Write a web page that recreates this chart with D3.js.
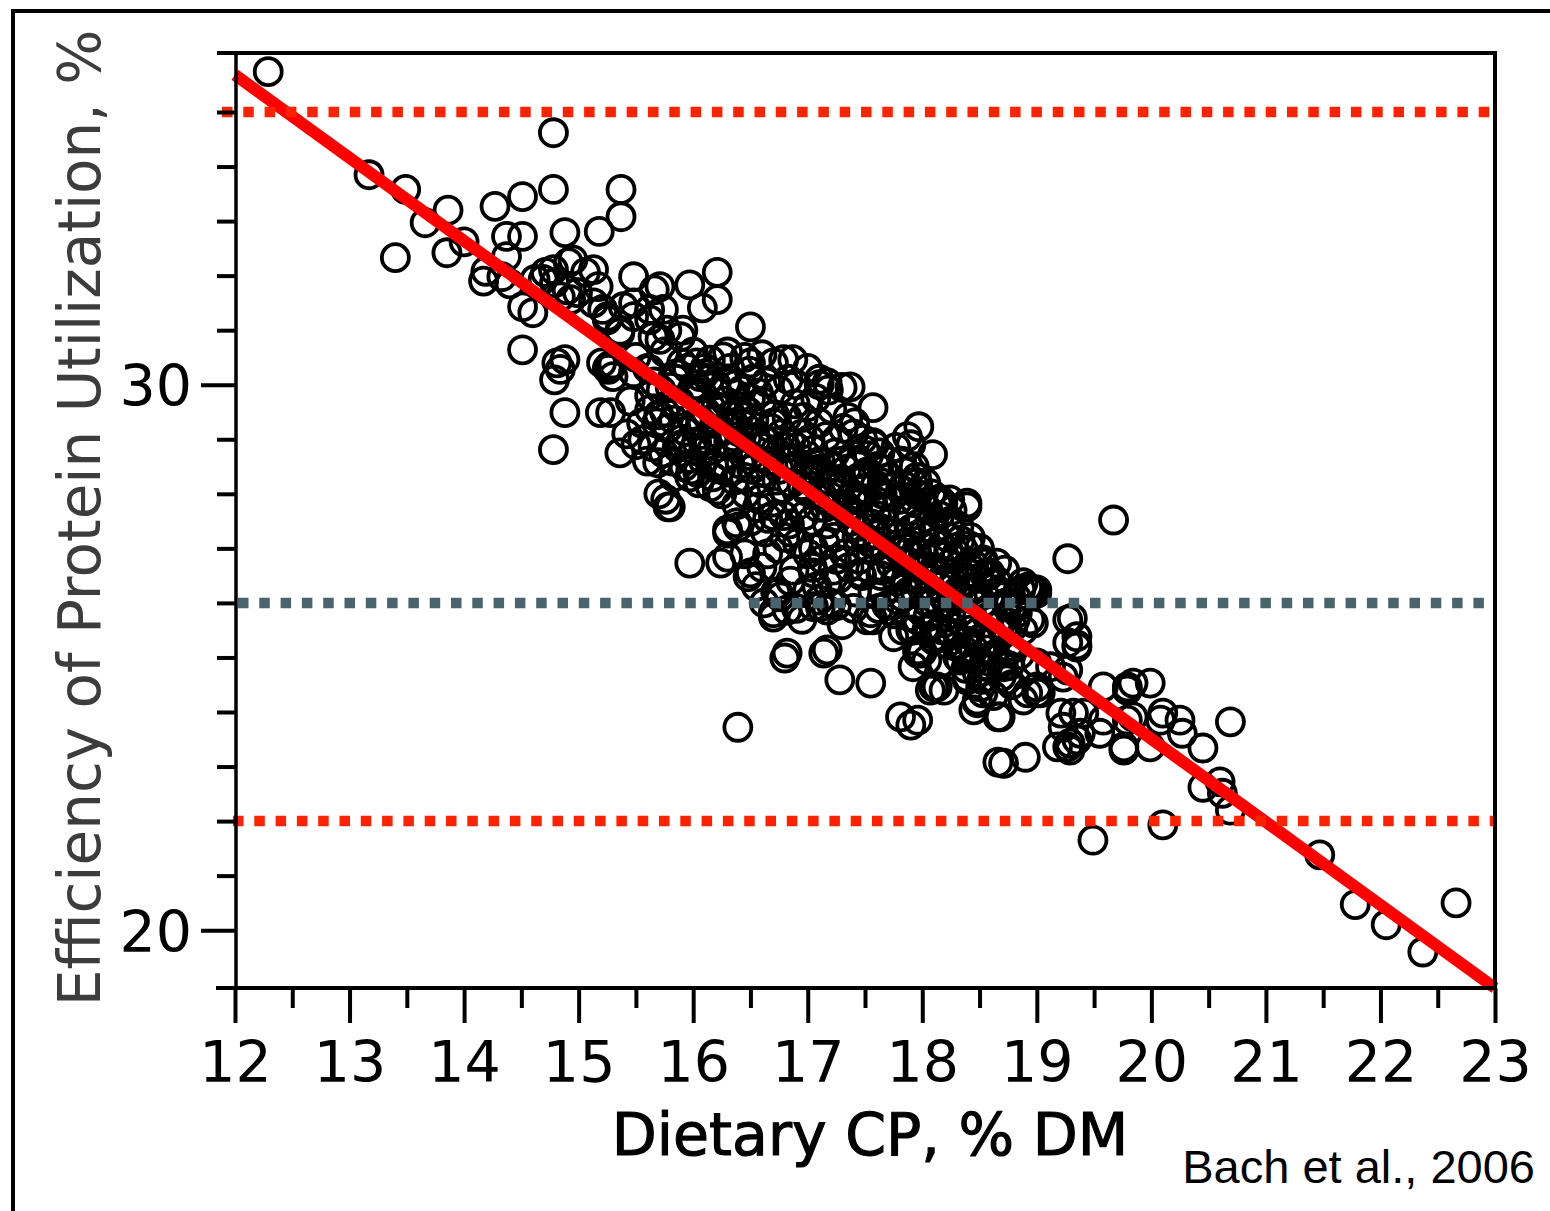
<!DOCTYPE html>
<html><head><meta charset="utf-8">
<script src="https://cdn.jsdelivr.net/npm/d3@7"></script>
<style>body{margin:0;background:#fff}svg{display:block}</style>
</head><body><svg id="chart" width="1550" height="1211"></svg>
<script>
// Observations: [dietary CP % DM, efficiency of protein utilization %]
const obsUpper = [
[12.29,35.74],[14.78,34.62],[13.17,33.85],[13.49,33.58],[13.66,32.97],[13.86,33.2],[13.40,32.33],[13.85,32.42],[14.00,32.62],[14.27,33.27],[14.51,33.45],[14.78,33.58],[15.37,33.58],[15.37,33.08],[15.18,32.81],[14.88,32.79],[14.37,32.72],[14.51,32.72],[14.19,32.08],[14.17,31.9],[14.33,31.98],[14.37,32.35],[14.40,31.85],[14.62,31.93],[14.71,32.06],[14.79,31.87],[14.91,32.24],[15.06,32.06],[15.17,31.8],[14.93,31.56],[14.51,31.43],[14.60,31.32],[15.21,31.38],[15.25,31.19],[15.36,30.95],[15.48,31.98],[15.66,31.74],[15.48,31.5],[15.71,31.8],[15.97,31.83],[16.21,32.06],[16.21,31.56],[16.08,31.41],[15.89,30.88],[15.71,30.83],[15.62,31.19],[15.74,31.38],[16.5,31.06],[14.51,30.64],[14.81,30.4],[14.84,30.28],[14.88,30.46],[14.79,30.09],[15.28,30.33],[15.26,30.28],[15.3,30.38],[15.48,30.22],[15.62,30.28],[14.88,29.49],[15.19,29.49],[15.28,29.49],[14.78,28.81],[15.36,28.75],[15.56,28.99],[15.62,29.54],[15.68,29.3],[15.65,28.86],[15.78,27.76],[15.98,28.44],[16.04,28.39],[16.21,28.07],[16.3,27.28],[16.39,27.39],[16.03,30.4],[16.26,30.51],[16.5,30.4],[16.79,30.46],[16.87,30.46],[17.17,30.04],[17.37,29.96],[17.57,29.58],[17.87,29.05],[17.97,29.23],[17.9,28.9],[18.09,28.72],[18.39,27.76],[19.67,27.52],[19.27,26.81],
[14.95,32.29],[15.13,32.11],[14.78,32.11],[14.69,31.93],[14.9,31.74],[14.84,31.61],[14.99,31.69],[15.13,31.5],[15.25,31.25],[15.36,31.0],[15.48,31.25],[15.62,31.38],[15.65,30.88],[15.77,31.0],[15.91,31.0],[15.39,31.43],[15.2,30.4],[15.25,30.3],[15.3,30.15],[15.27,30.35],[15.5,30.5],[15.6,30.3],[15.75,30.6],[15.85,30.2],[16.0,30.6],[16.1,30.3],[16.15,30.45],[16.3,30.6],[16.45,30.5],[16.6,30.55],[17.0,30.3],[17.1,30.0],[17.1,30.1],[17.3,29.95],[17.57,28.94],[17.66,28.44],[17.92,28.2],[18.0,27.95],[18.18,27.83],[18.39,27.83],[18.24,27.34],[18.42,27.2],[18.53,26.73],[18.65,26.73],[18.88,26.37],[18.97,26.24],[18.97,25.63],
[15.45,29.7],[15.55,29.3],[15.5,28.9],[15.6,28.6],[15.42,29.1]
];
const obsLower = [
[15.97,26.73],[16.24,26.73],[16.3,26.84],[16.48,26.48],[16.7,25.82],[16.74,26.18],[16.8,24.99],[17.14,25.08],[17.28,24.59],[17.55,24.53],[16.39,23.72],[17.81,23.91],[17.9,23.76],[17.96,23.85],[18.1,24.46],[18.19,24.4],[18.66,23.08],[18.9,23.17],[19.49,21.65],[20.1,21.93],
[15.8,27.76],[16.3,27.34],[16.38,27.47],[16.5,26.55],[16.76,26.11],[16.82,25.87],[16.7,25.74],[17.17,26.37],[17.2,26.0],[17.11,25.93],[17.0,26.24],[16.82,25.08],[17.17,25.14],[15.97,28.31],[16.17,28.31],[16.15,28.13],[15.69,28.57],[15.83,28.31],[17.26,27.58],[17.43,27.21],[17.55,27.1],[17.66,27.34],[17.9,26.73],[17.96,26.42],[17.83,26.11],[17.96,25.69],[18.04,25.5],[17.83,25.5],[18.18,25.5],[18.36,25.63],[18.53,26.0],[18.71,26.18],[18.83,25.82],[18.57,25.14],[18.77,25.14],[18.36,25.14],[18.16,24.9],[17.96,25.14],
[18.39,24.64],[18.48,24.17],[18.66,23.91],[18.92,24.35],[19.03,24.35],[17.05,25.93],[17.17,25.87],[17.52,25.69],[17.75,25.38],[17.92,24.83],[17.98,25.08],[18.45,24.04],[18.51,24.46],[18.57,24.83],[16.72,26.2],[16.9,25.9],[17.1,26.05],[17.25,25.95],
[16.55,26.3],[16.62,26.0],[16.85,26.4],[16.95,25.7],[17.05,26.55],[16.45,26.9],[16.6,26.65],[17.3,25.6],[17.4,25.9]
];
const obsRight = [
[20.69,23.82],[20.45,23.34],[20.45,22.62],[20.6,22.72],[20.62,22.51],[20.69,22.2],[21.47,21.38],[21.78,20.47],[22.05,20.1],[22.37,19.6],[22.66,20.5],
[18.94,26.24],[19.0,26.24],[18.86,26.24],[18.94,25.69],[18.81,25.69],[19.31,25.72],[19.35,25.38],[19.27,25.27],[19.35,25.23],[19.27,24.77],[18.71,24.83],[18.74,24.59],[19.0,24.9],[19.0,24.35],[18.68,23.91],[19.21,23.98],[19.32,23.98],[19.18,23.36],[19.29,23.43],[19.38,23.61],[19.58,24.46],[19.79,24.4],[19.84,24.53],[19.99,24.53],[19.55,23.61],[19.76,23.36],[19.84,23.91],[20.08,23.85],[20.1,23.98],[20.25,23.85],[20.27,23.61],[19.99,23.36],[18.71,23.06],[19.27,23.36],
[18.24,27.89],[18.13,27.83],[17.96,28.2],[17.81,28.07],[18.36,26.97],[18.53,26.79],[18.59,26.55],[18.92,26.29],[19.0,26.18],[18.74,25.93],[19.27,25.69],[19.35,25.19],[18.74,25.5],[19.12,24.83],[19.23,24.64],[19.0,24.46],[18.88,24.22],[18.62,25.01],[18.48,24.72],[18.53,24.35],[18.33,24.95],[18.39,24.59],[18.48,24.22],[18.1,25.32],[18.04,24.95],[17.96,25.08],[17.9,25.5],[17.57,25.69],[17.55,25.82],[17.66,26.18],[17.46,26.55],[18.13,24.46],[18.07,24.4],[19.41,23.98],[19.58,23.85],[19.79,23.85],[19.79,24.46],[19.23,23.72],[19.35,23.49],[19.29,23.3],[19.76,23.3]
];
const obsCore = [
[15.72,29.9],[15.75,29.5],[15.78,29.2],[15.85,30.1],[15.88,29.7],[15.9,29.0],[15.92,28.5],[15.95,30.3],[15.98,29.4],[16.0,28.8],[16.02,30.0],[16.05,28.2],[15.82,28.6],[15.7,28.0],[15.76,27.9],
[16.05,29.8],[16.08,29.3],[16.1,30.2],[16.12,28.9],[16.15,29.6],[16.18,28.5],[16.2,30.0],[16.22,29.1],[16.25,28.0],[16.28,29.7],[16.3,28.7],[16.32,30.3],[16.35,29.3],[16.38,27.8],[16.4,28.9],[16.42,29.9],[16.45,28.3],[16.48,29.5],[16.5,27.5],[16.5,28.7],[16.52,30.1],[16.55,29.0],[16.58,27.9],[16.6,29.7],[16.62,28.4],[16.65,26.9],[16.68,29.2],[16.7,27.6],[16.7,30.4],[16.72,28.8],
[16.75,29.9],[16.78,28.1],[16.8,27.2],[16.82,29.4],[16.85,28.6],[16.88,26.6],[16.9,30.0],[16.92,27.8],[16.95,29.1],[16.98,28.3],[17.0,26.9],[17.0,29.6],[17.03,27.5],[17.05,28.8],[17.08,26.3],[17.1,29.3],[17.12,28.0],[17.15,27.1],[17.18,29.9],[17.2,28.5],[17.22,26.6],[17.25,27.8],[17.25,29.0],
[17.3,28.2],[17.32,26.9],[17.35,29.4],[17.38,27.5],[17.4,28.7],[17.42,26.2],[17.45,27.9],[17.48,29.0],[17.5,27.2],[17.52,28.4],[17.55,26.6],[17.58,28.9],[17.6,27.6],[17.62,25.9],[17.65,28.2],[17.68,26.9],[17.7,28.6],[17.72,27.3],[17.75,25.8],[17.78,26.4],[17.8,27.9],
[17.82,28.6],[17.85,27.0],[17.88,26.2],[17.9,27.6],[17.92,25.5],[17.95,28.3],[17.98,26.7],[18.0,25.1],[18.02,27.3],[18.05,26.0],[18.08,28.0],[18.1,25.6],[18.12,26.9],[18.15,27.6],[18.18,24.9],[18.2,26.4],[18.22,27.2],[18.25,25.8],[18.28,26.8],[18.3,25.2],
[18.32,27.4],[18.35,26.1],[18.38,24.8],[18.4,26.7],[18.42,25.5],[18.45,26.3],[18.48,25.0],[18.5,27.0],[18.52,24.6],[18.55,25.8],[18.58,26.5],[18.6,25.3],[18.62,24.3],[18.65,26.2],[18.68,25.6],[18.7,24.9],[18.72,26.6],[18.75,25.2],[18.78,24.5],[18.8,25.9],
[17.4,29.1],[17.5,28.8],[17.6,28.5],[17.45,28.3],[17.65,28.0],[17.85,28.4],[17.95,28.0],[18.05,27.7],[18.15,27.9],[18.25,27.5],[18.1,27.1],[18.3,26.9],[18.45,26.7],[18.55,26.5],[18.65,26.4],[18.4,26.55]
];
const obsCoreDense = [
[15.62,29.8],[15.66,30.05],[15.7,29.45],[15.74,28.75],[15.8,29.95],[15.83,29.35],[15.86,28.85],[15.9,30.4],[15.93,29.15],[15.96,28.65],[15.99,29.9],[16.01,29.25],
[16.03,28.95],[16.06,30.15],[16.09,28.6],[16.11,29.5],[16.14,30.1],[16.16,28.8],[16.19,29.35],[16.21,29.85],[16.24,28.45],[16.26,29.55],[16.29,30.05],[16.31,28.95],[16.33,29.45],[16.36,28.25],[16.37,30.0],[16.39,29.15],[16.41,28.55],
[16.43,29.6],[16.46,28.0],[16.47,29.05],[16.49,30.25],[16.51,28.45],[16.53,29.35],[16.56,27.75],[16.57,29.85],[16.59,28.2],[16.61,29.0],[16.63,27.3],[16.64,30.05],[16.66,28.6],[16.69,27.85],[16.71,29.45],[16.73,28.25],[16.74,27.0],[16.77,29.1],[16.79,27.6],
[16.81,28.85],[16.83,30.1],[16.84,27.45],[16.86,28.2],[16.89,29.65],[16.91,27.1],[16.93,28.55],[16.96,29.4],[16.97,27.6],[16.99,28.05],[17.02,29.0],[17.04,26.65],[17.06,28.35],[17.07,29.75],[17.09,27.75],[17.11,28.6],[17.13,26.8],[17.16,29.05],[17.17,27.45],[17.19,28.25],
[17.21,29.55],[17.23,27.2],[17.24,28.75],[17.27,26.45],[17.28,28.0],[17.31,29.2],[17.33,27.7],[17.34,28.45],[17.36,26.65],[17.39,27.95],[17.41,29.3],[17.43,27.4],[17.44,28.55],[17.47,26.5],[17.49,28.1],[17.51,27.0],[17.53,28.7],[17.56,27.45],[17.57,26.2],[17.59,28.15],
[17.61,27.05],[17.63,28.75],[17.64,26.5],[17.67,27.75],[17.69,25.95],[17.71,28.3],[17.73,26.7],[17.76,27.55],[17.77,28.85],[17.79,26.05],[17.81,27.25],[17.84,28.15],[17.86,26.45],[17.87,27.7],[17.89,25.75],[17.91,27.05],[17.93,28.5],[17.94,26.2],[17.97,27.45],[17.99,25.85],
[18.01,26.9],[18.03,28.2],[18.06,26.25],[18.07,27.5],[18.09,25.35],[18.11,26.65],[18.13,27.85],[18.16,25.95],[18.17,27.05],[18.19,26.1],[18.21,25.25],[18.23,26.95],[18.26,27.7],[18.27,25.55],[18.29,26.45],[18.31,25.0],[18.33,27.15],[18.34,25.85],[18.37,26.4],[18.39,25.3],
[18.41,27.05],[18.43,25.7],[18.46,26.05],[18.47,24.95],[18.49,26.45],[18.51,25.35],[18.54,26.15],[18.56,24.85],[18.58,25.75],[18.61,26.35],[18.63,25.05],[18.66,25.9],[18.69,24.65],[18.71,25.45],[18.73,26.0],[18.76,24.85],[18.79,25.55],[18.82,26.1],[18.85,25.05],[18.88,25.5],
[16.35,29.05],[16.45,29.25],[16.55,28.55],[16.65,28.95],[16.75,28.45],[16.85,28.95],[16.95,28.15],[17.05,28.55],[17.15,27.75],[17.25,28.25],[17.35,27.75],[17.45,27.6],[17.55,27.85],[17.65,27.35],[17.75,27.05],[17.85,26.75],[17.95,26.95],[18.05,26.5],[18.15,26.3],[18.25,26.1],
[16.4,29.45],[16.6,28.85],[16.8,28.65],[17.0,28.45],[17.2,27.95],[17.4,27.65],[17.6,27.25],[17.8,26.95],[18.0,26.6],[18.2,26.55],
[16.5,29.75],[16.7,29.3],[16.9,28.85],[17.1,28.45],[17.3,28.6],[17.5,28.3],[17.7,27.95],[17.9,27.35],[18.1,27.3],[18.3,26.2],
[16.65,27.55],[16.85,27.3],[17.05,27.0],[17.25,26.8],[17.45,26.8],[17.65,26.6],[17.85,26.3],[18.05,25.75],[18.25,25.45],[18.45,25.15],
[16.2,29.6],[16.0,29.9],[15.85,29.6],[16.1,29.0],[16.3,28.4],[15.9,28.9]
];
const observations = obsUpper.concat(obsLower, obsRight, obsCore, obsCoreDense);

// Fitted regression line end points
const fitLine = [[12, 35.68], [23, 18.94]];
// Reference levels
const redLevels = [35, 22];
const greyLevel = 26;

const xTicksMajor = [12,13,14,15,16,17,18,19,20,21,22,23];
const xTicksMinor = [12.5,13.5,14.5,15.5,16.5,17.5,18.5,19.5,20.5,21.5,22.5];
const yTicksMajor = [20,30];
const yTicksMinor = [21,22,23,24,25,26,27,28,29,31,32,33,34,35];
const xTitle = "Dietary CP, % DM";
const yTitle = "Efficiency of Protein Utilization, %";
const sourceNote = "Bach et al., 2006";

const svg = d3.select("#chart");
const X0 = 235, X1 = 1495, Y0 = 52, Y1 = 988;
const x = d3.scaleLinear().domain([12, 23]).range([X0, X1]);
const y = d3.scaleLinear().domain([18.94, 36.1]).range([Y1, Y0]);

svg.append("rect").attr("width",1550).attr("height",1211).attr("fill","#fff");
// outer frame
svg.append("path").attr("d","M13,1230V11H1570").attr("fill","none").attr("stroke","#000").attr("stroke-width",4);

// points
svg.append("g").selectAll("circle").data(observations).join("circle")
  .attr("cx", d => x(d[0])).attr("cy", d => y(d[1])).attr("r", 13.5)
  .attr("fill","none").attr("stroke","#000").attr("stroke-width",3.8);

// regression line
svg.append("path").datum(fitLine)
  .attr("d", d3.line().x(d => x(d[0])).y(d => y(d[1])))
  .attr("stroke","#ff0000").attr("stroke-width",12).attr("fill","none");

// dotted reference lines
svg.append("g").selectAll("line").data(redLevels).join("line")
  .attr("x1", (d,i) => i === 0 ? 222 : 233).attr("x2", X1)
  .attr("y1", d => y(d)).attr("y2", d => y(d))
  .attr("stroke","#ff2200").attr("stroke-width",10.5).attr("stroke-dasharray","10.5,10.8");
svg.append("line").attr("x1",238).attr("x2",X1).attr("y1",y(greyLevel)).attr("y2",y(greyLevel))
  .attr("stroke","#4a646e").attr("stroke-width",10.5).attr("stroke-dasharray","10.5,10.8");

const font = "'DejaVu Sans', Verdana, sans-serif";

// axes
function styleAxis(g, w){
  g.select(".domain").remove();
  g.selectAll(".tick line").attr("stroke","#000").attr("stroke-width",w);
}
const gxMinor = svg.append("g").attr("transform",`translate(0,${Y1})`)
  .call(d3.axisBottom(x).tickValues(xTicksMinor).tickSize(20).tickSizeOuter(0).tickFormat(""));
styleAxis(gxMinor, 4);
const gxMajor = svg.append("g").attr("transform",`translate(0,${Y1})`)
  .call(d3.axisBottom(x).tickValues(xTicksMajor).tickSize(35).tickSizeOuter(0).tickPadding(19).tickFormat(d3.format("d")));
styleAxis(gxMajor, 4);
gxMajor.selectAll("text").attr("font-family",font).attr("font-size",57).attr("fill","#000");

const gyMinor = svg.append("g").attr("transform",`translate(${X0},0)`)
  .call(d3.axisLeft(y).tickValues(yTicksMinor).tickSize(18).tickSizeOuter(0).tickFormat(""));
styleAxis(gyMinor, 4);
const gyMajor = svg.append("g").attr("transform",`translate(${X0},0)`)
  .call(d3.axisLeft(y).tickValues(yTicksMajor).tickSize(34).tickSizeOuter(0).tickPadding(9).tickFormat(d3.format("d")));
styleAxis(gyMajor, 4);
gyMajor.selectAll("text").attr("font-family",font).attr("font-size",57).attr("fill","#000").attr("dy","0.37em");

// frame lines
const frame = svg.append("g").attr("stroke","#000").attr("fill","none");
frame.append("line").attr("x1",217).attr("x2",X1+2).attr("y1",Y0+1).attr("y2",Y0+1).attr("stroke-width",4);
frame.append("line").attr("x1",X1).attr("x2",X1).attr("y1",Y0-1).attr("y2",Y1+2).attr("stroke-width",4);
frame.append("line").attr("x1",X0+1).attr("x2",X0+1).attr("y1",Y0-1).attr("y2",Y1+2).attr("stroke-width",3.5);
frame.append("line").attr("x1",216).attr("x2",X1+2).attr("y1",Y1).attr("y2",Y1).attr("stroke-width",4);

// titles
svg.append("text").attr("x",870).attr("y",1155).attr("text-anchor","middle")
  .attr("font-family",font).attr("font-size",58.5).attr("fill","#000")
  .attr("stroke","#000").attr("stroke-width",1.1).text(xTitle);
svg.append("text").attr("transform","translate(100,518) rotate(-90)").attr("text-anchor","middle")
  .attr("font-family",font).attr("font-size",58).attr("fill","#3c3c3c").text(yTitle);
svg.append("text").attr("x",1535).attr("y",1183).attr("text-anchor","end")
  .attr("font-family","'Liberation Sans', Arial, Helvetica, sans-serif").attr("font-size",47).attr("fill","#000").text(sourceNote);
</script></body></html>
